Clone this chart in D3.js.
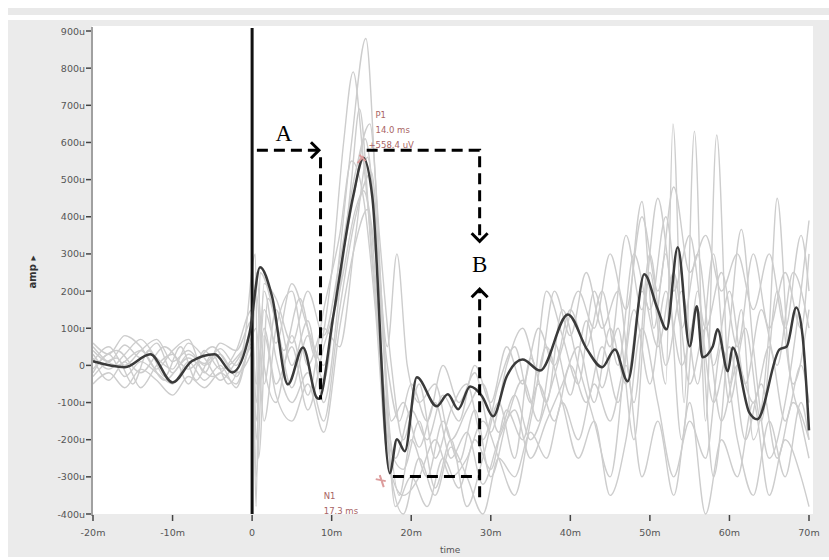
<!DOCTYPE html>
<html>
<head>
<meta charset="utf-8">
<script src="https://cdn.jsdelivr.net/npm/d3@7"></script>
<style>
  body { margin: 0; background: #fff; }
  text { font-family: "DejaVu Sans", sans-serif; }
</style>
</head>
<body>
<div id="vis-holder"></div>
<script>
// Chart size
const width = 829;
const height = 560;

// Averaged trace (ms, uV)
const meanTrace = [[-20,11],[-16,-5],[-12.8,30],[-10,-46],[-7.6,11],[-4.7,30],[-2.5,-19],[-0.3,89],[1.0,264],[2.5,186],
  [4.5,-51],[6.4,48],[8.1,-86],[8.4,-90],[10.2,132],[12.7,455],[14.0,558],[15.1,455],[17.3,-290],[18.2,-199],
  [19.2,-231],[20.7,-32],[23.2,-110],[24.6,-78],[25.9,-118],[27.4,-57],[28.9,-83],[30.3,-137],[32.0,-30],[34.0,16],
  [36.2,-14],[39.7,137],[42.1,43],[44,-5],[45.6,43],[47.2,-43],[49.3,245],[50.9,156],[52.1,97],[53.5,318],
  [55,51],[55.9,159],[56.6,22],[57.9,51],[58.5,97],[59.8,-16],[60.4,48],[62.5,-127],[63.5,-145],[66.3,43],
  [67.2,51],[68.4,156],[69.2,78],[70,-175]];

// Single trials (light gray)
const trial1 = [[-20,40],[-18,10],[-16,55],[-14,20],[-12,60],[-10,-20],[-8,30],[-6,5],[-4,45],[-2,0],[0,90],[0.5,-380],[1,250],[3,120],[5,-60],[7,80],[9,-40],[11,300],[12.5,600],[14.3,880],[15.5,500],[17,-100],[18.5,-350],[20,-200],[22,-300],[24,-150],[26,-260],[28,-120],[30,-300],[32,-150],[34,-40],[36,-150],[38,60],[40,-80],[42,120],[44,-60],[46,100],[48,-200],[50,250],[52,-50],[52.9,650],[54.3,-100],[55.6,630],[57,-150],[58.4,620],[60,-50],[61.5,150],[63,-200],[65,100],[66,450],[67.5,0],[69,-150],[70,-250]];
const trial2 = [[-20,-30],[-17,20],[-15,-50],[-13,40],[-11,-30],[-9,50],[-7,-40],[-5,30],[-3,-50],[-1,60],[0.4,300],[0.8,-250],[2,180],[4,40],[6,180],[8,20],[10,250],[11.5,600],[12.7,790],[14,550],[15.5,200],[17,-200],[19,-280],[21,-150],[23,-330],[25,-200],[27,-380],[29,-250],[31,-100],[33,-250],[35,20],[37,-100],[39,150],[41,0],[43,-150],[45,-300],[47,50],[49,441],[50.5,100],[52,300],[54,-200],[56,200],[58,-300],[60,100],[61.5,366],[63,50],[65,-250],[67,-100],[69,200],[70,390]];
const trial3 = [[-20,60],[-18,30],[-16,80],[-14,50],[-12,-10],[-10,40],[-8,70],[-6,-20],[-4,60],[-2,40],[0,120],[0.5,-100],[1.5,150],[3,60],[5,220],[7,100],[9,0],[11,250],[13,480],[14.2,610],[15.5,400],[17,50],[18.2,300],[19.5,0],[21,-100],[23,-50],[25,-200],[27,-120],[29,-50],[31,-180],[33,-80],[35,-200],[37,-100],[39,50],[41,200],[43,100],[45,300],[47,150],[49,400],[51,200],[53,480],[55,250],[57,350],[59,200],[61,300],[63,150],[65,300],[67,100],[69,350],[70,200]];
const trial4 = [[-20,-50],[-18,-20],[-16,-60],[-14,-10],[-12,-40],[-10,-80],[-8,-30],[-6,-60],[-4,-20],[-2,-50],[0,60],[0.5,-300],[1.5,80],[3,-80],[5,-150],[7,-50],[9,-180],[11,100],[13,330],[14.5,420],[16,100],[17.5,-300],[19,-400],[21,-250],[23,-350],[25,-220],[27,-300],[29,-400],[31,-250],[33,-300],[35,-180],[37,-250],[39,-100],[41,-200],[43,-50],[45,-150],[47,0],[49,-300],[51,-150],[53,-350],[55,-100],[57,-400],[59,-200],[61,-300],[63,-100],[65,-350],[67,-200],[69,-300],[70,-380]];
const trial5 = [[-20,20],[-18,-40],[-16,10],[-14,-60],[-12,0],[-10,30],[-8,-50],[-6,40],[-4,-10],[-2,20],[0,100],[0.5,200],[1.5,-50],[3,150],[5,0],[7,120],[9,-100],[11,200],[12.5,500],[13.5,690],[15,300],[16.5,-50],[18,-250],[20,-120],[22,-200],[24,-80],[26,-150],[28,0],[30,-100],[32,50],[34,-50],[36,100],[38,0],[40,150],[42,50],[44,200],[46,0],[48,300],[50,150],[52,400],[54,100],[56,300],[58,0],[60,200],[62,-50],[64,150],[66,0],[68,250],[70,100]];
const trial6 = [[-20,10],[-18,50],[-16,0],[-14,40],[-12,70],[-10,10],[-8,40],[-6,0],[-4,30],[-2,-30],[0,50],[0.5,-150],[1.5,200],[3,20],[5,-100],[7,-20],[9,-150],[11,150],[13,400],[15,520],[16.5,50],[18,-380],[20,-300],[22,-380],[24,-250],[26,-330],[28,-200],[30,-280],[32,-120],[34,-200],[36,-50],[38,-150],[40,0],[42,-100],[44,50],[46,-100],[48,150],[50,-50],[52,200],[54,0],[56,150],[58,-100],[60,50],[62,-200],[64,-50],[66,-250],[68,-100],[70,-200]];
const trial7 = [[-20,-20],[-18,30],[-16,-30],[-14,10],[-12,-20],[-10,-50],[-8,10],[-6,-40],[-4,0],[-2,-60],[0,80],[0.5,100],[1.5,-150],[3,100],[5,200],[7,0],[9,100],[11,50],[13,350],[14.5,560],[16,250],[17.5,-150],[19,-100],[21,-220],[23,-100],[25,-250],[27,-180],[29,-320],[31,-200],[33,-120],[35,-250],[37,-150],[39,-50],[41,50],[43,-100],[45,100],[47,-50],[49,200],[51,50],[53,250],[55,-50],[57,100],[59,-150],[61,0],[63,-100],[65,50],[67,-150],[69,0],[70,-100]];
const trial8 = [[-20,30],[-18,-10],[-16,30],[-14,70],[-12,20],[-10,-10],[-8,60],[-6,20],[-4,-40],[-2,10],[0,70],[0.5,-50],[1.5,100],[3,-50],[5,50],[7,-120],[9,50],[11,200],[13,420],[14,470],[15.5,300],[17,0],[18.5,-150],[20,-50],[22,-150],[24,0],[26,-100],[28,-20],[30,-180],[32,0],[34,100],[36,-20],[38,200],[40,80],[42,250],[44,100],[46,200],[48,-100],[50,300],[52,0],[54,200],[56,-50],[58,300],[60,-100],[62,100],[64,-150],[66,200],[68,-50],[70,150]];
const trial9 = [[-20,-10],[-17,40],[-14,-20],[-11,50],[-8,-10],[-5,50],[-2,-20],[0,40],[0.5,250],[1.5,0],[3,-100],[5,80],[7,-80],[9,150],[11,350],[12.5,550],[14,450],[15.5,150],[17,-250],[19,-350],[21,-300],[23,-200],[25,-300],[27,-250],[29,-150],[31,-250],[33,-350],[35,-150],[37,50],[39,-100],[41,-250],[43,-150],[45,-350],[47,-200],[49,100],[51,-100],[53,-300],[55,-150],[57,-250],[59,50],[61,-200],[63,-350],[65,-150],[67,-300],[69,-100],[70,-200]];
const trial10 = [[-20,50],[-17,0],[-14,40],[-11,-40],[-8,20],[-5,-30],[-2,40],[0,150],[0.5,-200],[1.5,220],[3,180],[5,60],[7,200],[9,80],[11,280],[13,520],[14.8,650],[16,350],[17.5,0],[19,-200],[21,-50],[23,-250],[25,-120],[27,-50],[29,-200],[31,-50],[33,50],[35,-100],[37,200],[39,80],[41,-50],[43,200],[45,50],[47,350],[49,150],[51,450],[53,200],[55,350],[57,100],[59,250],[61,50],[63,300],[65,100],[67,250],[69,100],[70,300]];
const trials = [trial1, trial2, trial3, trial4, trial5, trial6, trial7, trial8, trial9, trial10];

// Axis ticks
const yTicks = [900, 800, 700, 600, 500, 400, 300, 200, 100, 0, -100, -200, -300, -400];
const xTicks = [-20, -10, 0, 10, 20, 30, 40, 50, 60, 70];

// Peak markers
const peaks = [
  {name: "P1", t: 14.0, v: 558, lines: ["P1", "14.0 ms", "+558.4 uV"]},
  {name: "N1", t: 17.3, v: -290, lines: ["N1", "17.3 ms"]}
];

// Dashed arrows (ms, uV): A then B
const arrowA = [[0.6, 579], [8.4, 579]];
const lineA = [[8.6, 560], [8.6, -92]];
const arrowBdown = [[14.4, 579], [28.6, 579], [28.6, 334]];
const arrowBup = [[28.6, -355], [28.6, 205]];
const lineB = [[17.7, -299], [28.6, -299]];

const svg = d3.select("#vis-holder")
  .append("svg")
  .attr("width", width)
  .attr("height", height);

// Scales
const x = d3.scaleLinear().domain([-20, 70]).range([93, 809]);
const y = d3.scaleLinear().domain([-400, 900]).range([514, 31]);

// Panel background
svg.append("rect").attr("x", 8).attr("y", 8).attr("width", 821).attr("height", 7).attr("fill", "#e9e9e9");
svg.append("rect").attr("x", 8).attr("y", 20).attr("width", 821).attr("height", 537).attr("fill", "#ebebeb");
svg.append("rect").attr("x", 92).attr("y", 26).attr("width", 721).attr("height", y(-400) - 26).attr("fill", "#fff");

// Light trials
const line = d3.line().x(d => x(d[0])).y(d => y(d[1])).curve(d3.curveMonotoneX);
const plot = svg.append("g");

plot.selectAll(".trial")
  .data(trials)
  .enter()
  .append("path")
  .attr("class", "trial")
  .attr("d", line)
  .attr("fill", "none")
  .attr("stroke", "#cdcdcd")
  .attr("stroke-width", 1.4);

// Stimulus line
plot.append("line")
  .attr("x1", x(0)).attr("x2", x(0))
  .attr("y1", 28).attr("y2", y(-400))
  .attr("stroke", "#111")
  .attr("stroke-width", 3);

// Mean trace
plot.append("path")
  .attr("d", line(meanTrace))
  .attr("fill", "none")
  .attr("stroke", "#3a3a3a")
  .attr("stroke-width", 2.5);

// Peak markers and labels
peaks.forEach((p) => {
  const px = x(p.t), py = y(p.v);
  plot.append("path")
    .attr("d", p.name === "P1"
      ? `M${px - 6},${py + 5} L${px},${py - 2} M${px - 4},${py - 3} L${px + 2},${py + 3}`
      : `M${px - 14},${py + 6} L${px - 4},${py + 8} M${px - 10},${py + 2} L${px - 6},${py + 14}`)
    .attr("stroke", "#dc9c9c")
    .attr("stroke-width", 2)
    .attr("fill", "none");
  const tx = p.name === "P1" ? px + 12 : x(p.t) - 66;
  const ty = p.name === "P1" ? py - 40 : py + 26;
  p.lines.forEach((s, i) => {
    plot.append("text")
      .attr("x", tx + (i === 2 ? -7 : 0))
      .attr("y", ty + i * 15)
      .attr("fill", "#a86464")
      .attr("font-size", "8.5px")
      .text(s);
  });
});

// Y axis
const yAxis = svg.append("g");
yAxis.append("line")
  .attr("x1", 92).attr("x2", 92).attr("y1", 27).attr("y2", y(-400) + 2)
  .attr("stroke", "#a0a0a0").attr("stroke-width", 2);
yAxis.selectAll(".ytick")
  .data(yTicks)
  .enter()
  .append("line")
  .attr("x1", 86).attr("x2", 91)
  .attr("y1", d => y(d)).attr("y2", d => y(d))
  .attr("stroke", "#444").attr("stroke-width", 1.5);
yAxis.selectAll(".ylabel")
  .data(yTicks)
  .enter()
  .append("text")
  .attr("x", 85)
  .attr("y", d => y(d) + 3.5)
  .attr("text-anchor", "end")
  .attr("font-size", "9.5px")
  .attr("fill", "#555")
  .text(d => d === 0 ? "0" : d + "u");

// X axis
const xAxis = svg.append("g");
xAxis.selectAll(".xtick")
  .data(xTicks)
  .enter()
  .append("line")
  .attr("x1", d => x(d)).attr("x2", d => x(d))
  .attr("y1", y(-400) + 1).attr("y2", y(-400) + 7)
  .attr("stroke", "#444").attr("stroke-width", 1.5);
xAxis.selectAll(".xlabel")
  .data(xTicks)
  .enter()
  .append("text")
  .attr("x", d => x(d))
  .attr("y", 536)
  .attr("text-anchor", "middle")
  .attr("font-size", "9.5px")
  .attr("fill", "#555")
  .text(d => d === 0 ? "0" : d + "m");

svg.append("text")
  .attr("x", 440).attr("y", 553)
  .attr("font-size", "9px").attr("fill", "#555")
  .text("time");

svg.append("text")
  .attr("transform", "translate(36,272) rotate(-90)")
  .attr("text-anchor", "middle")
  .attr("font-size", "10px").attr("font-weight", "bold").attr("fill", "#333")
  .text("amp ▸");

// Dashed arrows
const straight = d3.line().x(d => x(d[0])).y(d => y(d[1]));
const arrows = svg.append("g")
  .attr("fill", "none")
  .attr("stroke", "#000")
  .attr("stroke-width", 3)
  .attr("stroke-dasharray", "11,6");

[arrowA, lineA, arrowBdown, arrowBup, lineB].forEach((a) => {
  arrows.append("path").attr("d", straight(a));
});

// Arrow heads: right for A, down and up for B
function head(pt, dir) {
  const hx = x(pt[0]), hy = y(pt[1]);
  const s = 8;
  let d;
  if (dir === "right") d = `M${hx - s},${hy - s} L${hx},${hy} L${hx - s},${hy + s}`;
  if (dir === "down") d = `M${hx - s},${hy - s} L${hx},${hy} L${hx + s},${hy - s}`;
  if (dir === "up") d = `M${hx - s},${hy + s} L${hx},${hy} L${hx + s},${hy + s}`;
  svg.append("path").attr("d", d)
    .attr("fill", "none").attr("stroke", "#000").attr("stroke-width", 3);
}
head(arrowA[1], "right");
head(arrowBdown[2], "down");
head(arrowBup[1], "up");

svg.append("text")
  .attr("x", x(arrowA[0][0]) + 27).attr("y", y(arrowA[0][1]) - 9)
  .attr("text-anchor", "middle")
  .style("font-family", "'Liberation Serif', serif")
  .attr("font-size", "23px")
  .text("A");

svg.append("text")
  .attr("x", x(arrowBdown[2][0])).attr("y", y(arrowBdown[2][1]) + 31)
  .attr("text-anchor", "middle")
  .style("font-family", "'Liberation Serif', serif")
  .attr("font-size", "23px")
  .text("B");
</script>
</body>
</html>
